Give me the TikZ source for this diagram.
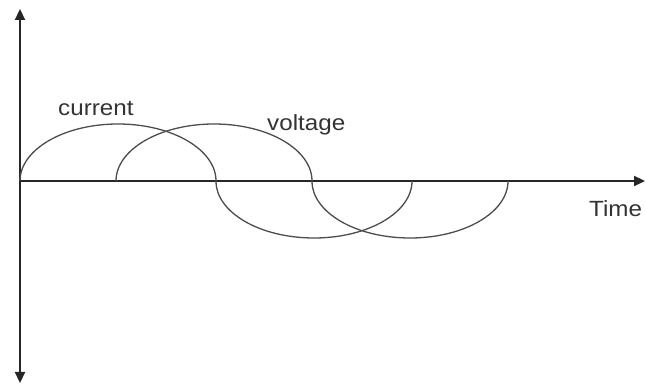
\documentclass[tikz,border=0pt]{standalone}
\usepackage{fontspec}
\setmainfont{Liberation Sans}
\usetikzlibrary{arrows.meta}
\begin{document}
\begin{tikzpicture}[x=1pt,y=1pt,
  axis/.style={line width=2.2pt,draw=black!85,-{Triangle[length=11pt,width=10pt]}},
  wave/.style={line width=1.3pt,draw=black!70},
  lbl/.style={anchor=base west,inner sep=0pt,text=black!80,font=\fontsize{22}{26}\selectfont,xscale=1.1}]
\useasboundingbox (0,0) rectangle (646,386);
\coordinate (O) at (20,205);
\coordinate (ytop) at (20,377);
\coordinate (ybot) at (20,3);
\coordinate (xend) at (645,205);
\coordinate (v0) at (116,205);
\draw[axis] (O) -- (ytop);
\draw[axis] (O) -- (ybot);
\draw[axis] (O) -- (xend);
\draw[wave] (O) arc[start angle=180,end angle=0,x radius=98,y radius=57]
  arc[start angle=180,end angle=360,x radius=98,y radius=57];
\draw[wave] (v0) arc[start angle=180,end angle=0,x radius=98,y radius=57]
  arc[start angle=180,end angle=360,x radius=98,y radius=57];
\node[lbl] (cur) at (58,270) {current};
\node[lbl] (vol) at (267,255) {voltage};
\node[lbl] (tim) at (589,169) {Time};
\end{tikzpicture}
\end{document}
